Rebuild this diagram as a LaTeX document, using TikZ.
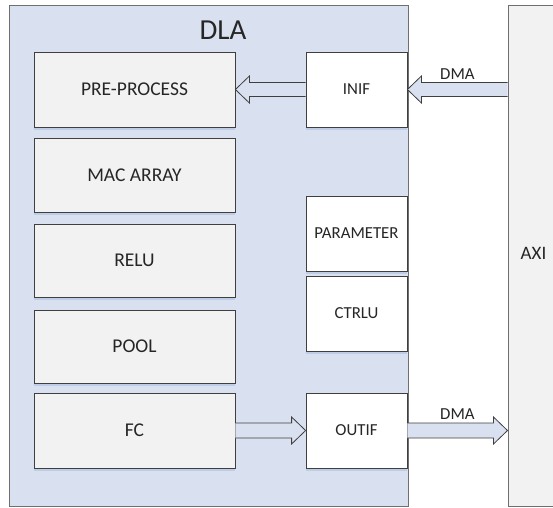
\documentclass[tikz,border=0pt]{standalone}
\usepackage{fontspec}
\setmainfont{Carlito}
\usetikzlibrary{calc,shadows}
\definecolor{dlafill}{HTML}{D9E0EF}
\definecolor{blkfill}{HTML}{F2F2F2}
\definecolor{edge}{HTML}{3F3F3F}
\definecolor{outer}{HTML}{6F6F6F}
\definecolor{shade}{HTML}{9FB4DA}
\tikzset{
  blk/.style={draw=edge, line width=0.8pt, fill=blkfill, inner sep=0pt,
    font=\fontsize{19.5}{23}\selectfont, text=black!85,
    drop shadow={shadow xshift=0pt, shadow yshift=-2.5pt, fill=shade, opacity=0.45}},
  ifbox/.style={blk, fill=white, font=\fontsize{16.8}{20}\selectfont},
  fatarrow/.style={draw=edge, line width=0.8pt, fill=dlafill, line join=miter},
  lbl/.style={font=\fontsize{16.8}{20}\selectfont, text=black!85, inner sep=0pt}
}
\begin{document}
\begin{tikzpicture}[x=1pt,y=-1pt]
\useasboundingbox (0,0) rectangle (553,507);
\clip (0,0) rectangle (553,507);
\fill[white] (0,0) rectangle (553,507);

% DLA container and AXI bus
\node[draw=outer, line width=1pt, fill=dlafill, minimum width=399pt, minimum height=501pt, inner sep=0pt] (dla) at (208.5,255.5) {};
\node[font=\fontsize{29}{32}\selectfont, text=black!85] (dlat) at (223,30) {DLA};
\node[draw=outer, line width=1pt, fill=blkfill, minimum width=50pt, minimum height=501pt, inner sep=0pt] (axi) at (533,255.5) {};
\node[lbl, font=\fontsize{19}{22}\selectfont] (axit) at (533.5,253) {AXI};

% processing pipeline
\node[blk, minimum width=201pt, minimum height=75pt] (pre) at (134.5,89.5) {PRE-PROCESS};
\node[blk, minimum width=201pt, minimum height=74pt] (mac) at (134.5,175) {MAC ARRAY};
\node[blk, minimum width=201pt, minimum height=73pt] (relu) at (134.5,260.5) {RELU};
\node[blk, minimum width=201pt, minimum height=73pt] (pool) at (134.5,346.5) {POOL};
\node[blk, minimum width=201pt, minimum height=75pt] (fc) at (134.5,430.5) {FC};

% interfaces and control
\node[ifbox, minimum width=101pt, minimum height=75pt] (inif) at (356.5,89.5) {INIF};
\node[ifbox, minimum width=101pt, minimum height=75pt] (param) at (356.5,233.5) {PARAMETER};
\node[ifbox, minimum width=101pt, minimum height=75pt] (ctrlu) at (356.5,313.5) {CTRLU};
\node[ifbox, minimum width=101pt, minimum height=75pt] (outif) at (356.5,430.5) {OUTIF};

% block arrows (shaft half-width 7, head half-width 13.5, head length 14)
\coordinate (a1) at ($(axi.west |- inif.east)+(0,-7)$);
\draw[fatarrow] (a1)
  -- ($(inif.east)+(14,-7)$) -- ($(inif.east)+(14,-13.5)$) -- (inif.east)
  -- ($(inif.east)+(14,13.5)$) -- ($(inif.east)+(14,7)$) -- ($(axi.west |- inif.east)+(0,7)$);
\node[lbl, anchor=south] (dma1) at ($(a1)!0.5!(inif.east |- a1)+(0,-3)$) {DMA};

\draw[fatarrow] ($(inif.west)+(0,-7)$)
  -- ($(pre.east)+(14,-7)$) -- ($(pre.east)+(14,-13.5)$) -- (pre.east)
  -- ($(pre.east)+(14,13.5)$) -- ($(pre.east)+(14,7)$) -- ($(inif.west)+(0,7)$);

\draw[fatarrow] ($(fc.east)+(0,-7.5)$)
  -- ($(outif.west)+(-14,-7.5)$) -- ($(outif.west)+(-14,-13.5)$) -- (outif.west)
  -- ($(outif.west)+(-14,13.5)$) -- ($(outif.west)+(-14,7.5)$) -- ($(fc.east)+(0,7.5)$);

\coordinate (a2) at ($(outif.east)+(0,-7.5)$);
\draw[fatarrow] (a2)
  -- ($(axi.west |- outif.east)+(-14,-7.5)$) -- ($(axi.west |- outif.east)+(-14,-13.5)$) -- (axi.west |- outif.east)
  -- ($(axi.west |- outif.east)+(-14,13.5)$) -- ($(axi.west |- outif.east)+(-14,7.5)$) -- ($(outif.east)+(0,7.5)$);
\node[lbl, anchor=south] (dma2) at ($(a2)!0.5!(axi.west |- a2)+(0,-3)$) {DMA};
\end{tikzpicture}
\end{document}
